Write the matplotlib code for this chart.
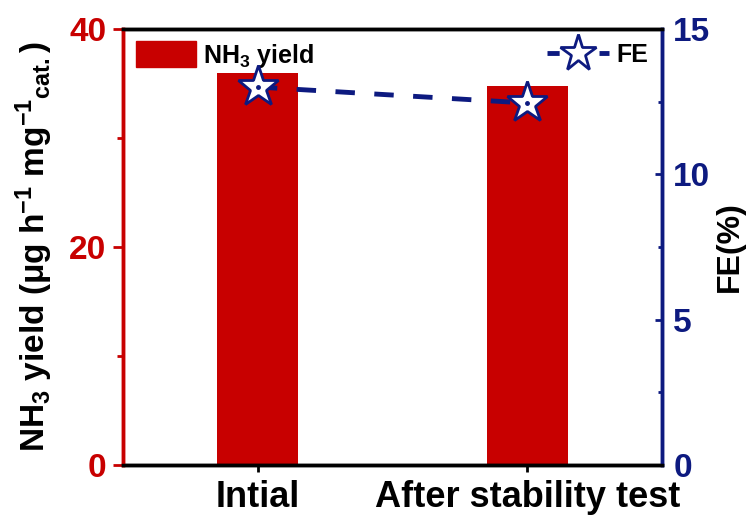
import matplotlib
matplotlib.use("Agg")
import matplotlib.pyplot as plt
from matplotlib.ticker import MultipleLocator
from matplotlib.lines import Line2D
from matplotlib.patches import Patch

categories = ["Intial", "After stability test"]
nh3_yield = [36.0, 34.8]
fe_values = [13.0, 12.45]

RED = "#C80000"
NAVY = "#0D1A80"

plt.rcParams["font.family"] = ["Liberation Sans", "DejaVu Sans"]
plt.rcParams["font.weight"] = "bold"
plt.rcParams["mathtext.fontset"] = "custom"
plt.rcParams["mathtext.rm"] = "Liberation Sans:bold"
plt.rcParams["mathtext.it"] = "Liberation Sans:bold"
plt.rcParams["mathtext.bf"] = "Liberation Sans:bold"
plt.rcParams["mathtext.sf"] = "Liberation Sans:bold"

fig = plt.figure(figsize=(7.55, 5.21), dpi=100)
ax = fig.add_axes([0.163, 0.1075, 0.714, 0.837])
ax2 = ax.twinx()

x = list(range(len(categories)))
ax.bar(x, nh3_yield, width=0.3, color=RED, zorder=2)
ax.set_xlim(-0.5, 1.5)
ax.set_ylim(0, 40)
ax.set_xticks(x)
ax.set_xticklabels(categories, fontsize=26, fontweight="bold")
ax.yaxis.set_major_locator(MultipleLocator(20))
ax.yaxis.set_minor_locator(MultipleLocator(10))
ax.tick_params(axis="y", which="major", colors=RED, labelsize=24, length=7, width=2, direction="out", pad=5)
ax.tick_params(axis="y", which="minor", colors=RED, length=4, width=2, direction="out")
ax.tick_params(axis="x", which="major", length=5, width=2, direction="out", labelsize=26, pad=6)
for lab in ax.get_yticklabels():
    lab.set_fontweight("bold")
ax.set_ylabel("NH$_3$ yield (μg h$^{-1}$ mg$^{-1}$$_{\\rm cat.}$)", fontsize=24, fontweight="bold", labelpad=10)

ax2.plot(x, fe_values, linestyle=(0, (4, 4)), color=NAVY, linewidth=3.5, marker="*",
         markersize=31, markerfacecolor="white", markeredgecolor=NAVY, markeredgewidth=2, zorder=3)
ax2.plot(x, fe_values, linestyle="none", marker="o", markersize=2.5, color=NAVY, zorder=4)
ax2.set_ylim(0, 15)
ax2.yaxis.set_major_locator(MultipleLocator(5))
ax2.yaxis.set_minor_locator(MultipleLocator(2.5))
ax2.tick_params(axis="y", which="major", colors=NAVY, labelsize=24, length=5, width=2, direction="in", pad=8)
ax2.tick_params(axis="y", which="minor", colors=NAVY, length=3, width=2, direction="in")
for lab in ax2.get_yticklabels():
    lab.set_fontweight("bold")
ax2.set_ylabel("FE(%)", fontsize=23, fontweight="bold", labelpad=3)

for a in (ax, ax2):
    a.spines["top"].set_color("black")
    a.spines["bottom"].set_color("black")
    a.spines["left"].set_color(RED)
    a.spines["right"].set_color(NAVY)
    for s in a.spines.values():
        s.set_linewidth(2.5)

leg1 = ax.legend(handles=[Patch(color=RED, label="NH$_3$ yield")], loc="upper left",
                 frameon=False, handlelength=2.4, handleheight=1.2,
                 borderaxespad=0.1, handletextpad=0.3, prop={"weight": "bold", "size": 18})
leg2 = ax2.legend(handles=[Line2D([0], [0], linestyle=(0, (2.5, 8.2)), color=NAVY, linewidth=3.5, marker="*",
                                  markersize=28, markerfacecolor="white", markeredgecolor=NAVY,
                                  markeredgewidth=2, label="FE")],
                  loc="upper right", frameon=False, handlelength=2.5, borderaxespad=0.15,
                  handletextpad=0.3, prop={"weight": "bold", "size": 18})

fig.savefig("out.png", dpi=100)
